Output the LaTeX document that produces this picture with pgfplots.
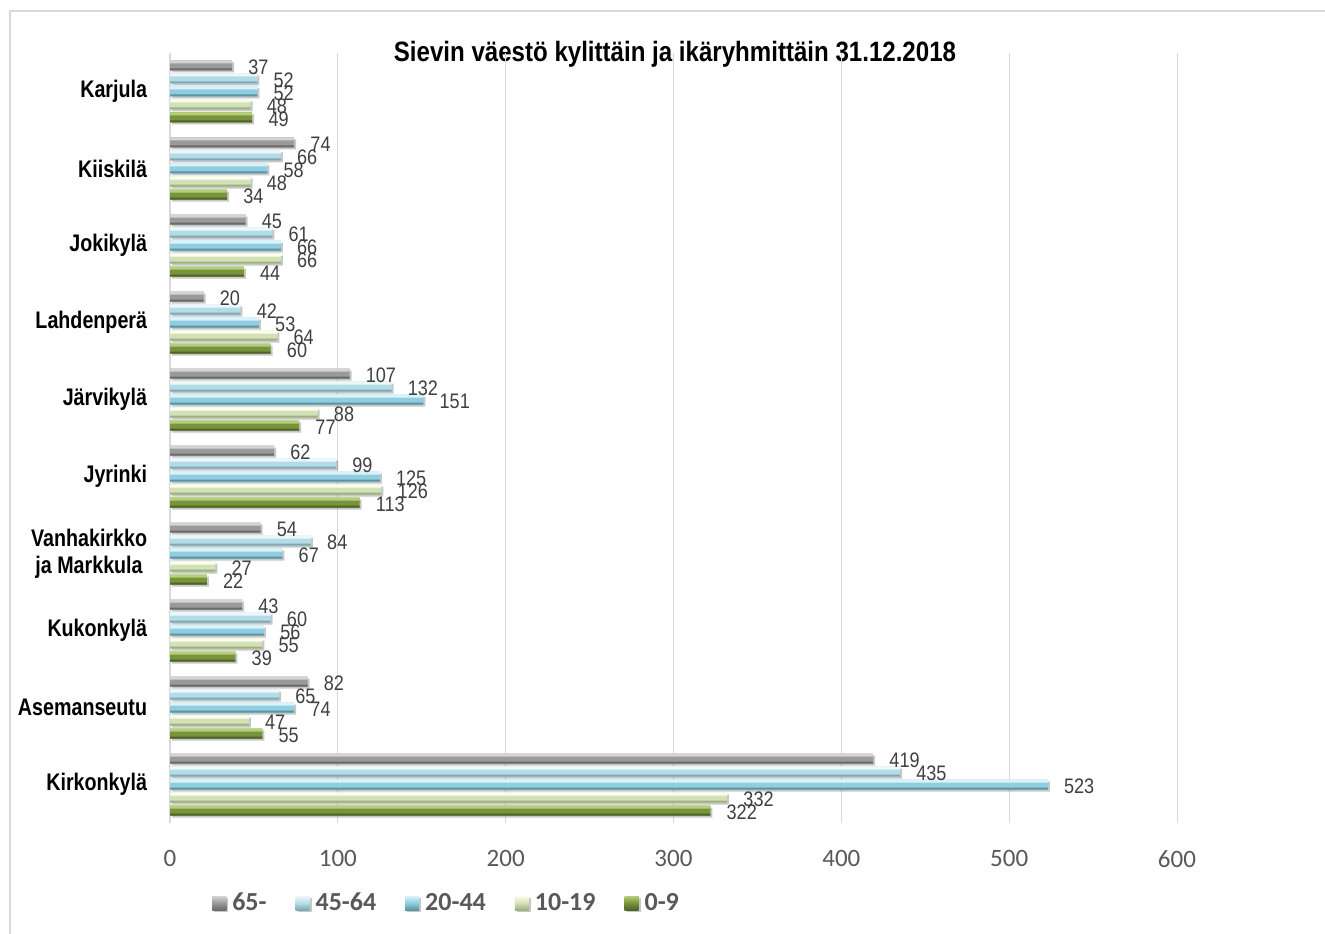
\documentclass[border=0pt]{standalone}
\usepackage{pgfplots}
\usepackage{pgfplotstable}
\pgfplotsset{compat=1.18}
\usepackage{fontspec}
\setmainfont{Liberation Sans}
\newfontfamily\carlito{Carlito}
\usetikzlibrary{shadows}
\definecolor{gridc}{HTML}{D9D9D9}
\definecolor{tickc}{HTML}{595959}
\definecolor{labc}{HTML}{404040}
\definecolor{legc}{HTML}{595959}
\definecolor{gT}{HTML}{D4D4D4}\definecolor{gM}{HTML}{9A9A9A}\definecolor{gB}{HTML}{6A6A6A}
\definecolor{lbT}{HTML}{EEF8FB}\definecolor{lbM}{HTML}{B3DCE7}\definecolor{lbB}{HTML}{7FA8B4}
\definecolor{bT}{HTML}{D8F3FA}\definecolor{bM}{HTML}{8FCDDF}\definecolor{bB}{HTML}{5A94A5}
\definecolor{yT}{HTML}{FBFDF0}\definecolor{yM}{HTML}{D3E1B6}\definecolor{yB}{HTML}{9FB07F}
\definecolor{grT}{HTML}{B5CF79}\definecolor{grM}{HTML}{77933C}\definecolor{grB}{HTML}{4F6228}
\newcommand\cat[1]{\scalebox{0.82}[1]{#1}}
\pgfplotsset{
  mainbar/.style n args={3}{fill=#2, draw=none,
    drop shadow={shadow xshift=1.5pt, shadow yshift=-1.5pt, fill=black, opacity=0.22},
    nodes near coords={\scalebox{0.86}[1]{\pgfmathprintnumber{\pgfplotspointmeta}}},
    legend image code/.code={\shade[top color=#1,bottom color=#3,middle color=#2] (0pt,-5.25pt) rectangle (10.5pt,5.25pt);}},
  hitop/.style={fill=#1, draw=none, bar width=2.25pt, forget plot},
  hibot/.style={fill=#1, draw=none, bar width=1.5pt, forget plot},
}
\pgfplotstableread{
v09 v1019 v2044 v4564 v65
322 332 523 435 419
55  47  74  65  82
39  55  56  60  43
22  27  67  84  54
113 126 125 99  62
77  88  151 132 107
60  64  53  42  20
44  66  66  61  45
34  48  58  66  74
49  48  52  52  37
}\data
\begin{document}
\begin{tikzpicture}[x=0.75pt,y=-0.75pt]
\useasboundingbox (0,0) rectangle (1325,934);
\fill[white] (0,0) rectangle (1325,934);
\draw[gridc, line width=0.9pt] (10,934) -- (10,11) -- (1325,11);
\node[anchor=base, inner sep=0pt, font=\bfseries\fontsize{21}{24}\selectfont] at (675,62)
  {\scalebox{0.86}[1]{Sievin väestö kylittäin ja ikäryhmittäin 31.12.2018}};
\begin{axis}[
  at={(127.5pt,-617.25pt)}, anchor=south west,
  scale only axis, width=755.25pt, height=577.5pt,
  xmin=0, xmax=600, ymin=-0.5, ymax=9.5,
  xbar, bar width=7.5pt,
  clip=false,
  xtick={0,100,...,600},
  ytick={0,...,9},
  yticklabels={\cat{Kirkonkylä},\cat{Asemanseutu},\cat{Kukonkylä},{\cat{Vanhakirkko}\\\cat{ja Markkula}},\cat{Jyrinki},\cat{Järvikylä},\cat{Lahdenperä},\cat{Jokikylä},\cat{Kiiskilä},\cat{Karjula}},
  xmajorgrids, major grid style={draw=gridc, line width=0.75pt},
  axis line style={draw=none},
  tick style={draw=none},
  /pgf/number format/assume math mode=true,
  xticklabel style={font=\carlito\fontsize{18.75}{20}\selectfont, text=tickc, inner sep=0pt, yshift=-20.25pt},
  yticklabel style={font=\bfseries\fontsize{18}{20}\selectfont, align=center, inner sep=0pt, xshift=-12.75pt, text=black},
  every node near coord/.append style={font=\fontsize{15.75}{17}\selectfont, text=labc, inner sep=0pt, xshift=12pt, yshift=-1.5pt, anchor=west, draw=none, fill=none},
  reverse legend,
  legend columns=5,
  legend style={at={(0.0417,-0.1039)}, anchor=west, draw=none, fill=none, inner sep=0pt,
    font=\carlito\bfseries\fontsize{19.5}{20}\selectfont, text=legc,
    nodes={inner sep=0pt},
    /tikz/every odd column/.append style={column sep=4.5pt},
    /tikz/every even column/.append style={column sep=21.75pt}},
]
% 0-9
\addplot[mainbar={grT}{grM}{grB}, bar shift=-19.5pt] table[y expr=\coordindex, x=v09] {\data};
\addplot[hitop=grT, bar shift=-16.875pt] table[y expr=\coordindex, x=v09] {\data};
\addplot[hibot=grB, bar shift=-22.5pt] table[y expr=\coordindex, x=v09] {\data};
% 10-19
\addplot[mainbar={yT}{yM}{yB}, bar shift=-9.75pt] table[y expr=\coordindex, x=v1019] {\data};
\addplot[hitop=yT, bar shift=-7.125pt] table[y expr=\coordindex, x=v1019] {\data};
\addplot[hibot=yB, bar shift=-12.75pt] table[y expr=\coordindex, x=v1019] {\data};
% 20-44
\addplot[mainbar={bT}{bM}{bB}, bar shift=0pt] table[y expr=\coordindex, x=v2044] {\data};
\addplot[hitop=bT, bar shift=2.625pt] table[y expr=\coordindex, x=v2044] {\data};
\addplot[hibot=bB, bar shift=-3pt] table[y expr=\coordindex, x=v2044] {\data};
% 45-64
\addplot[mainbar={lbT}{lbM}{lbB}, bar shift=9.75pt] table[y expr=\coordindex, x=v4564] {\data};
\addplot[hitop=lbT, bar shift=12.375pt] table[y expr=\coordindex, x=v4564] {\data};
\addplot[hibot=lbB, bar shift=6.75pt] table[y expr=\coordindex, x=v4564] {\data};
% 65-
\addplot[mainbar={gT}{gM}{gB}, bar shift=19.5pt] table[y expr=\coordindex, x=v65] {\data};
\addplot[hitop=gT, bar shift=22.125pt] table[y expr=\coordindex, x=v65] {\data};
\addplot[hibot=gB, bar shift=16.5pt] table[y expr=\coordindex, x=v65] {\data};
\legend{0-9,10-19,20-44,45-64,65-}
\end{axis}
\end{tikzpicture}
\end{document}
